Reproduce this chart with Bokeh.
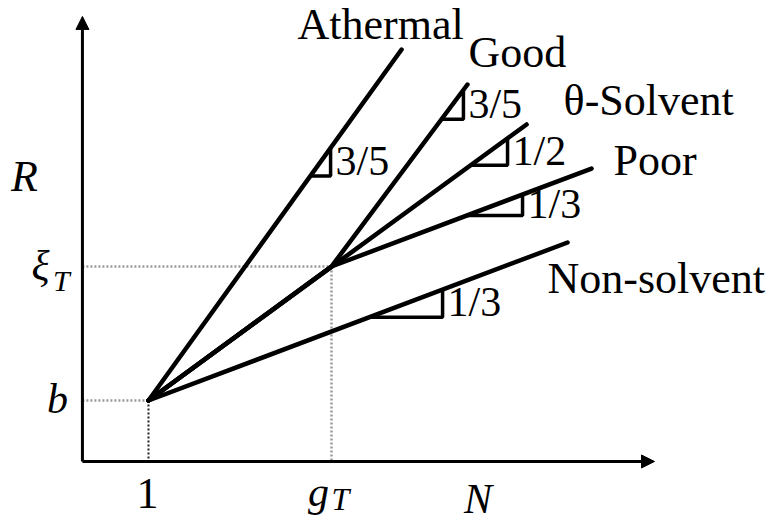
import numpy as np
from bokeh.plotting import figure
from bokeh.models import Range1d, Arrow, NormalHead, ColumnDataSource
from bokeh.core.properties import value
from bokeh.embed import file_html
from bokeh.resources import INLINE

# ---- schematic data: x = log N / log g_T, y = log(R/b) / log(xi_T/b) ----
regimes = ["Athermal", "Good", "θ-Solvent", "Poor", "Non-solvent"]
athermal_x = [0.0, 1.383]
athermal_y = [0.0, 2.619]
good_x = [0.0, 1.0, 1.743]
good_y = [0.0, 1.0, 2.358]
theta_x = [0.0, 2.066]
theta_y = [0.0, 2.060]
poor_x = [0.0, 1.0, 2.421]
poor_y = [0.0, 1.0, 1.731]
nonsolvent_x = [0.0, 2.290]
nonsolvent_y = [0.0, 1.179]
# slope triangles (x extent along each line) and exponent labels
tri_x0 = [0.885, 1.601, 1.760, 1.738, 1.208]
tri_x1 = [0.995, 1.721, 1.962, 2.044, 1.607]
slope_labels = ["3/5", "3/5", "1/2", "1/3", "1/3"]
# special points
g_T = 1.0
xi_T = 1.0
N_one = 0.0
b_val = 0.0

lines_x = [athermal_x, good_x, theta_x, poor_x, nonsolvent_x]
lines_y = [athermal_y, good_y, theta_y, poor_y, nonsolvent_y]

SERIF = value("Liberation Serif")

p = figure(width=768, height=525, output_backend="svg", toolbar_location=None,
           x_range=Range1d(-0.8087, 3.388), y_range=Range1d(-0.9328, 2.985),
           min_border=0, min_border_left=0, min_border_right=0,
           min_border_top=0, min_border_bottom=0)
p.axis.visible = False
p.grid.visible = False
p.outline_line_color = None
p.background_fill_color = "white"

ax_x = -0.361   # position of drawn y-axis
ax_y = -0.455   # position of drawn x-axis
ax_top = 2.866
ax_right = 2.765
r_label_y = 1.67
n_label_x = 1.8

# guide lines
p.line([ax_x, g_T], [xi_T, xi_T], line_color="#999999", line_width=2.5, line_dash="2 2")
p.line([g_T, g_T], [xi_T, ax_y], line_color="#999999", line_width=2.5, line_dash="2 2")
p.line([ax_x, N_one], [b_val, b_val], line_color="#999999", line_width=2.5, line_dash="2 2")
p.line([N_one, N_one], [b_val, ax_y], line_color="#222222", line_width=2, line_dash="2 2")

# axes with arrows
p.add_layout(Arrow(end=NormalHead(size=13, fill_color="black", line_color="black"),
                   x_start=ax_x, y_start=ax_y, x_end=ax_x, y_end=ax_top,
                   line_width=3, line_color="black"))
p.add_layout(Arrow(end=NormalHead(size=13, fill_color="black", line_color="black"),
                   x_start=ax_x, y_start=ax_y, x_end=ax_right, y_end=ax_y,
                   line_width=3, line_color="black"))

# regime lines
p.multi_line(xs=lines_x, ys=lines_y, line_color="black", line_width=4.5, line_cap="round")

# slope triangles
tri_xs, tri_ys, lab_x, lab_y = [], [], [], []
for lx, ly, a, c in zip(lines_x, lines_y, tri_x0, tri_x1):
    ya = float(np.interp(a, lx, ly))
    yc = float(np.interp(c, lx, ly))
    tri_xs.append([a, c, c])
    tri_ys.append([ya, ya, yc])
    lab_x.append(c)
    lab_y.append((ya + yc) / 2)
p.multi_line(xs=tri_xs, ys=tri_ys, line_color="black", line_width=3.5)
p.text(x=lab_x, y=lab_y, text=slope_labels, text_font=SERIF, text_font_size="42px",
       text_align="left", text_baseline="middle", x_offset=5, y_offset=-1, text_color="black")

# regime labels near line ends
end_x = [l[-1] for l in lines_x]
end_y = [l[-1] for l in lines_y]
offs_x = [-21, 1, 37, 22, -20]
offs_y = [-25, -32, -24, -8, 36]
aligns = ["center", "left", "left", "left", "left"]
src = ColumnDataSource(dict(x=end_x, y=end_y, t=regimes, xo=offs_x, yo=offs_y, al=aligns))
p.text(x="x", y="y", text="t", x_offset="xo", y_offset="yo", text_align="al",
       text_baseline="alphabetic", text_font=SERIF, text_font_size="44px",
       text_color="black", source=src)

# axis labels
p.text(x=[ax_x], y=[r_label_y], text=["R"], x_offset=-58, y_offset=0, text_align="center",
       text_baseline="middle", text_font=SERIF, text_font_style="italic",
       text_font_size="44px", text_color="black")
p.text(x=[ax_x], y=[xi_T], text=["ξ"], x_offset=-42, y_offset=0, text_align="center",
       text_baseline="middle", text_font=SERIF, text_font_style="italic",
       text_font_size="42px", text_color="black")
p.text(x=[ax_x], y=[xi_T], text=["T"], x_offset=-21, y_offset=14, text_align="center",
       text_baseline="middle", text_font=SERIF, text_font_style="italic",
       text_font_size="30px", text_color="black")
p.text(x=[ax_x], y=[b_val], text=["b"], x_offset=-25, y_offset=-2, text_align="center",
       text_baseline="middle", text_font=SERIF, text_font_style="italic",
       text_font_size="42px", text_color="black")
p.text(x=[N_one], y=[ax_y], text=["1"], x_offset=-1, y_offset=32, text_align="center",
       text_baseline="alphabetic", text_font=SERIF,
       text_font_size="44px", text_color="black")
p.text(x=[g_T], y=[ax_y], text=["g"], x_offset=-13, y_offset=31, text_align="center",
       text_baseline="alphabetic", text_font=SERIF, text_font_style="italic",
       text_font_size="42px", text_color="black")
p.text(x=[g_T], y=[ax_y], text=["T"], x_offset=9, y_offset=38, text_align="center",
       text_baseline="alphabetic", text_font=SERIF, text_font_style="italic",
       text_font_size="32px", text_color="black")
p.text(x=[n_label_x], y=[ax_y], text=["N"], x_offset=0, y_offset=38, text_align="center",
       text_baseline="alphabetic", text_font=SERIF, text_font_style="italic",
       text_font_size="42px", text_color="black")

open("out.html", "w").write(file_html(p, INLINE))
